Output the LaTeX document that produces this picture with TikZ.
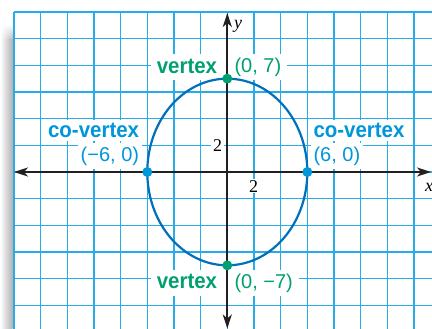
\documentclass[tikz,border=0pt]{standalone}
\usepackage{fontspec}
\setmainfont{Liberation Serif}
\newfontfamily\lblfont[FakeStretch=0.93]{Liberation Sans}
\newfontfamily\numfont{Liberation Sans}
\usetikzlibrary{arrows.meta,fit,fadings}
\definecolor{gridc}{RGB}{40,172,232}
\definecolor{ellc}{RGB}{0,112,186}
\definecolor{bluec}{RGB}{0,150,218}
\definecolor{greenc}{RGB}{0,160,112}
\definecolor{axisc}{RGB}{35,31,32}
\pgfdeclarelayer{bg}
\pgfdeclarelayer{boxes}
\pgfsetlayers{bg,boxes,main}
\tikzset{
  word/.style={font=\lblfont\bfseries\fontsize{22}{24}\selectfont, inner sep=0pt},
  coord/.style={font=\numfont\fontsize{20}{22}\selectfont, inner sep=0pt},
  whitebox/.style={fill=white, inner xsep=3pt, inner ysep=3.5pt},
  ticklbl/.style={font=\fontsize{18}{20}\selectfont, fill=white, inner xsep=2pt, inner ysep=1pt},
  axlbl/.style={font=\itshape\fontsize{18}{20}\selectfont, inner sep=0pt},
  gridline/.style={gridc, line width=1.1pt},
  axisline/.style={axisc, line width=2pt, {Stealth[length=14pt,width=9pt,inset=4pt]}-{Stealth[length=14pt,width=9pt,inset=4pt]}},
  dotg/.style={circle, fill=greenc, inner sep=0pt, minimum size=10pt},
  dotb/.style={circle, fill=bluec, inner sep=0pt, minimum size=10pt}
}
\begin{document}
\begin{tikzpicture}[x=1pt,y=-1pt]
\useasboundingbox (0,0) rectangle (432,329);
\clip (0,0) rectangle (432,329);
\begin{pgfonlayer}{bg}
  % shadow
  \shade[left color=white, right color=black!30] (0,40) rectangle (12.5,329);
  \shade[left color=white, right color=black!30, path fading=north] (0,24) rectangle (12.5,40.2);
  % grid
  \foreach \i in {0,...,16} \draw[gridline] ({14+26.667*\i},12) -- ({14+26.667*\i},330);
  \foreach \j in {0,...,12} \draw[gridline] (14,{12+26.667*\j}) -- (433,{12+26.667*\j});
\end{pgfonlayer}

% labels
\node[word, text=greenc, anchor=base east] (vt) at (217.3,73.3) {vertex};
\node[coord, text=greenc, anchor=base west] (vtc) at (234.3,72.5) {(0, 7)};
\node[word, text=greenc, anchor=base east] (vb) at (217.3,288.3) {vertex};
\node[coord, text=greenc, anchor=base west] (vbc) at (234.3,288) {(0, −7)};
\begin{pgfonlayer}{boxes}
  \node[fill=white, inner xsep=6pt, inner ysep=3.5pt, fit=(vt)(vtc)] (vtbox) {};
  \node[fill=white, inner xsep=6pt, inner ysep=3.5pt, fit=(vb)(vbc)] (vbbox) {};
\end{pgfonlayer}

\node[word, whitebox, text=bluec, anchor=base east] (cl) at (142.3,137.7) {co-vertex};
\node[coord, whitebox, text=bluec, anchor=base east] (clc) at (142.3,161) {(−6, 0)};
\node[word, whitebox, text=bluec, anchor=base west] (cr) at (310.3,137.7) {co-vertex};
\node[coord, whitebox, text=bluec, anchor=base west] (crc) at (310.3,161) {(6, 0)};

\node[ticklbl, anchor=base east] (ty) at (224.3,151.7) {2};
\node[ticklbl, anchor=base] (tx) at (253.7,192.3) {2};
\node[axlbl, anchor=base west] (ly) at (234,28.5) {y};
\node[axlbl, anchor=base west] (lx) at (425,192) {x};

% axes
\coordinate (xl) at (14,172);
\coordinate (xr) at (431,172);
\coordinate (yt) at (227.3,13);
\coordinate (yb) at (227.3,328.5);
\draw[axisline] (xl) -- (xr);
\draw[axisline] (yb) -- (yt);

% ellipse
\coordinate (o) at (227.3,172);
\draw[ellc, line width=2.2pt] (o) ellipse [x radius=80, y radius=93.33];

% points
\node[dotg] (p1) at (227.3,78.67) {};
\node[dotg] (p2) at (227.3,265.33) {};
\node[dotb] (p3) at (147.3,172) {};
\node[dotb] (p4) at (307.3,172) {};
\end{tikzpicture}
\end{document}
